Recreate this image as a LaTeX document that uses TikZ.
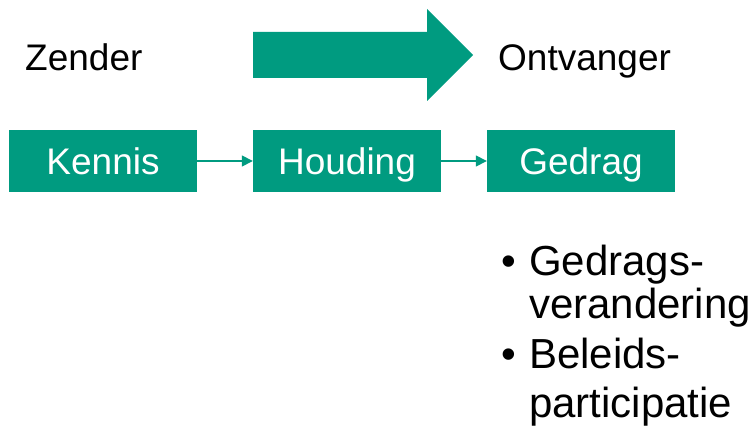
\documentclass[tikz,border=0pt]{standalone}
\usepackage{fontspec}
\setmainfont{Liberation Sans}
\usetikzlibrary{arrows.meta}
\definecolor{teal1}{RGB}{0,155,128}
\begin{document}
\begin{tikzpicture}[x=1pt,y=-1pt,
  box/.style={fill=teal1, draw=none, minimum width=188pt, minimum height=62pt, inner sep=0pt, text height=28pt, text depth=0pt, text=white, font=\fontsize{37}{42}\selectfont},
  lbl/.style={anchor=base west, inner sep=0pt, font=\fontsize{37}{42}\selectfont},
  bul/.style={anchor=base west, inner sep=0pt, font=\fontsize{42}{48}\selectfont},
  conn/.style={draw=teal1, line width=1.5pt, -{Triangle[length=11pt,width=11pt]}}]
\useasboundingbox (0,0) rectangle (754,430);
\node[box] (k) at (103,161) {Kennis};
\node[box] (h) at (347,161) {Houding};
\node[box] (g) at (581,161) {Gedrag};
\draw[conn] (k.east) -- (h.west);
\draw[conn] (h.east) -- (g.west);
\fill[teal1] (253,32) -- (427,32) -- (427,9) -- (473,55) -- (427,101) -- (427,78) -- (253,78) -- cycle;
\node[lbl] (z) at (25,71) {Zender};
\node[lbl] (o) at (498,71) {Ontvanger};
\node[bul] (d1) at (501,275) {\textbullet};
\node[bul] (b1) at (529,275) {Gedrags-};
\node[bul] (b2) at (529,318) {verandering};
\node[bul] (d2) at (501,368) {\textbullet};
\node[bul] (b3) at (529,368) {Beleids-};
\node[bul] (b4) at (529,417) {participatie};
\end{tikzpicture}
\end{document}
